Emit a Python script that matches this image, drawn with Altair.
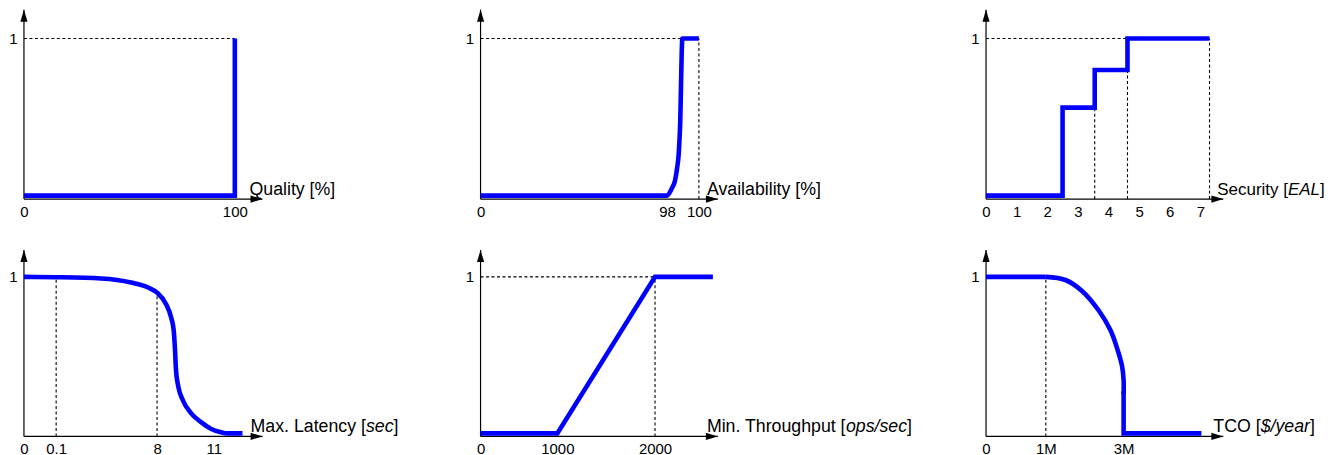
import altair as alt
import pandas as pd

FONT = "Liberation Sans"
BLUE = "#0000ff"
TITLE_FS = 17.8
TICK_FS = 15

# ---------------- data ----------------
# Panel 1: Quality [%]
q_x = [0, 100, 100]
q_y = [0, 0, 1]
q_ticks = [0, 100]

# Panel 2: Availability [%]
a_x = [0, 98, 98.29, 98.5, 98.64, 98.73, 98.79, 98.83, 98.875, 98.92, 98.96, 100]
a_y = [0, 0, 0.044, 0.095, 0.18, 0.26, 0.37, 0.47, 0.685, 0.90, 1.0, 1.0]
a_ticks = [0, 98, 100]

# Panel 3: Security [EAL]
s_x = [0, 2.5, 2.5, 3.55, 3.55, 4.62, 4.62, 7.3]
s_y = [0, 0, 0.56, 0.56, 0.8, 0.8, 1, 1]
s_ticks = [0, 1, 2, 3, 4, 5, 6, 7]

# Panel 4: Max. Latency [sec]
l_x = [0, 0.1, 3.62, 5.97, 7.3, 8.0, 8.47, 8.74, 8.88, 8.95, 9.0, 9.12, 9.35,
       9.79, 10.32, 10.84, 11.37, 11.72, 12.51]
l_y = [1.0, 0.998, 0.99, 0.964, 0.932, 0.899, 0.827, 0.742, 0.658, 0.53, 0.405,
       0.30, 0.215, 0.13, 0.072, 0.03, 0.008, 0, 0]
l_ticks = [0, 0.1, 8, 11]

# Panel 5: Min. Throughput [ops/sec]
t_x = [0, 1000, 2000, 2592]
t_y = [0, 0, 1, 1]
t_ticks = [0, 1000, 2000]

# Panel 6: TCO [$/year]  (x in millions)
c_flat_x = [0, 1]
c_flat_y = [1, 1]
c_x = [1, 1.505, 1.93, 2.36, 2.66, 2.85, 2.96, 3.0, 3.0]
c_y = [1, 0.98, 0.91, 0.785, 0.66, 0.53, 0.43, 0.34, 0.25]
c_drop_x = [3.0, 3.0, 5.0]
c_drop_y = [0.27, 0, 0]
c_ticks = [0, 1, 3]

# ---------------- helpers ----------------
ARIAL_W = {
    " ": 278, "[": 278, "]": 278, "%": 889, "/": 278, "$": 556, ".": 278,
    "A": 667, "C": 722, "E": 667, "L": 556, "M": 833, "O": 778, "Q": 778,
    "S": 667, "T": 611,
    "a": 556, "b": 556, "c": 500, "e": 556, "g": 556, "h": 556, "i": 222,
    "l": 222, "n": 556, "o": 556, "p": 556, "r": 333, "s": 500, "t": 278,
    "u": 556, "x": 500, "y": 500,
}


def text_width(s, fs):
    return sum(ARIAL_W.get(ch, 556) for ch in s) * fs / 1000.0


def panel(xs, ys, ticks, xdom, xrange, width, height, ydom, tip_x,
          title, title_dx, dotted_h=(), dotted_v=(), interp="linear",
          extras=(), label_expr="'' + datum.value", title_fs=TITLE_FS):
    ymin, ymax = ydom
    xs_ = alt.Scale(domain=xdom, range=xrange, nice=False, zero=False)
    ys_ = alt.Scale(domain=[ymin, ymax], nice=False, zero=False)

    xaxis = alt.Axis(values=ticks, domain=False, ticks=False, grid=False,
                     labelFont=FONT, labelFontSize=TICK_FS, labelColor="black",
                     labelPadding=5, labelFlush=False, labelOverlap=False,
                     title=None, labelExpr=label_expr)
    yaxis = alt.Axis(values=[1], domain=False, ticks=False, grid=False,
                     labelFont=FONT, labelFontSize=TICK_FS, labelColor="black",
                     labelPadding=7, title=None, labelExpr="'' + datum.value")

    def X(f="x"):
        return alt.X(f + ":Q", scale=xs_, axis=xaxis)

    def Y(f="y"):
        return alt.Y(f + ":Q", scale=ys_, axis=yaxis)

    layers = []
    # x axis line
    layers.append(
        alt.Chart(pd.DataFrame({"x": [0], "x2": [tip_x], "y": [ymin]}))
        .mark_rule(color="black", strokeWidth=1.2)
        .encode(x=X(), x2="x2:Q", y=Y())
    )
    # y axis line
    layers.append(
        alt.Chart(pd.DataFrame({"x": [0], "y": [ymin], "y2": [ymax]}))
        .mark_rule(color="black", strokeWidth=1.2)
        .encode(x=X(), y=Y(), y2="y2:Q")
    )
    # dotted guides
    if dotted_h:
        dh = pd.DataFrame({"x": [d[0] for d in dotted_h],
                           "x2": [d[1] for d in dotted_h],
                           "y": [d[2] for d in dotted_h]})
        layers.append(
            alt.Chart(dh).mark_rule(color="black", strokeWidth=1.1,
                                    strokeDash=[3, 2.5])
            .encode(x=X(), x2="x2:Q", y=Y())
        )
    if dotted_v:
        dv = pd.DataFrame({"x": [d[0] for d in dotted_v],
                           "y": [ymin for d in dotted_v],
                           "y2": [d[1] for d in dotted_v]})
        layers.append(
            alt.Chart(dv).mark_rule(color="black", strokeWidth=1.1,
                                    strokeDash=[3, 2.5])
            .encode(x=X(), y=Y(), y2="y2:Q")
        )
    # blue curve
    df = pd.DataFrame({"x": xs, "y": ys, "i": list(range(len(xs)))})
    layers.append(
        alt.Chart(df).mark_line(color=BLUE, strokeWidth=4.6, interpolate=interp,
                                strokeJoin="miter", strokeCap="butt")
        .encode(x=X(), y=Y(), order="i:Q")
    )
    for ex, ey in extras:
        dfe = pd.DataFrame({"x": ex, "y": ey, "i": list(range(len(ex)))})
        layers.append(
            alt.Chart(dfe).mark_line(color=BLUE, strokeWidth=4.6,
                                     strokeJoin="miter", strokeCap="butt")
            .encode(x=X(), y=Y(), order="i:Q")
        )
    # arrowheads
    layers.append(
        alt.Chart(pd.DataFrame({"x": [tip_x], "y": [ymin]}))
        .mark_point(shape="M0,0L-2,-0.6L-2,0.6Z", size=144, filled=True,
                    color="black", strokeWidth=0, opacity=1)
        .encode(x=X(), y=Y())
    )
    layers.append(
        alt.Chart(pd.DataFrame({"x": [0], "y": [ymax]}))
        .mark_point(shape="M0,0L-0.6,2L0.6,2Z", size=144, filled=True,
                    color="black", strokeWidth=0, opacity=1)
        .encode(x=X(), y=Y())
    )
    # axis title (mixed styles)
    off = title_dx
    for seg, style in title:
        layers.append(
            alt.Chart(pd.DataFrame({"x": [tip_x], "y": [ymin]}))
            .mark_text(text=seg, align="left", baseline="alphabetic",
                       dx=off, dy=-4, font=FONT, fontSize=title_fs,
                       fontStyle=style, color="black")
            .encode(x=X(), y=Y())
        )
        off += text_width(seg, title_fs)
    return alt.layer(*layers).properties(width=width, height=height)


TOP_Y = [-0.022, 1.1835]
TOP_H = 190
BOT_Y = [-0.019, 1.172]
BOT_H = 187
W1, W2, W3 = 457.3, 507, 238

p1 = panel(q_x, q_y, q_ticks, [0, 216.2], [0, W1], W1, TOP_H, TOP_Y, 113.1,
           [("Quality [%]", "normal")], -13, dotted_h=[(0, 100, 1)])
p2 = panel(a_x, a_y, a_ticks, [0, 98, 100, 118], [0, 187, 219, W2], W2, TOP_H,
           TOP_Y, 101.19, [("Availability [%]", "normal")], -11,
           dotted_h=[(0, 100, 1)], dotted_v=[(100, 1)], interp="monotone")
p3 = panel(s_x, s_y, s_ticks, [0, 7.75], [0, W3], W3, TOP_H, TOP_Y, 7.75,
           [("Security [", "normal"), ("EAL", "italic"), ("]", "normal")], -6,
           dotted_h=[(0, 7.3, 1)],
           dotted_v=[(3.55, 0.56), (4.62, 0.8), (7.3, 1)], title_fs=17)
p4 = panel(l_x, l_y, l_ticks, [0, 0.1, 8, 11, 25.04],
           [0, 32.3, 133.5, 190.5, W1], W1, BOT_H, BOT_Y, 13.57,
           [("Max. Latency [", "normal"), ("sec", "italic"), ("]", "normal")],
           -12, dotted_v=[(0.1, 0.998), (8, 0.899)], interp="monotone")
p5 = panel(t_x, t_y, t_ticks, [0, 1000, 2000, 5387.8], [0, 77, 175, W2], W2,
           BOT_H, BOT_Y, 2642.9,
           [("Min. Throughput [", "normal"), ("ops/sec", "italic"),
            ("]", "normal")], -11,
           dotted_h=[(0, 2000, 1)], dotted_v=[(2000, 1)])
p6 = panel(c_x, c_y, c_ticks, [0, 1, 3, 5.564], [0, 60, 138, W3], W3, BOT_H,
           BOT_Y, 5.564,
           [("TCO [", "normal"), ("$/year", "italic"), ("]", "normal")], -10,
           dotted_v=[(1, 1)], interp="catmull-rom",
           extras=[(c_flat_x, c_flat_y), (c_drop_x, c_drop_y)],
           label_expr="datum.value == 0 ? '0' : datum.value + 'M'")

chart = (
    alt.concat(p1, p2, p3, p4, p5, p6, columns=3,
               spacing={"row": 51, "column": 0}, bounds="flush")
    .properties(padding=0, background="white")
    .configure_view(stroke=None)
)

chart.save("out.html", embed_options={"renderer": "svg", "actions": False})
